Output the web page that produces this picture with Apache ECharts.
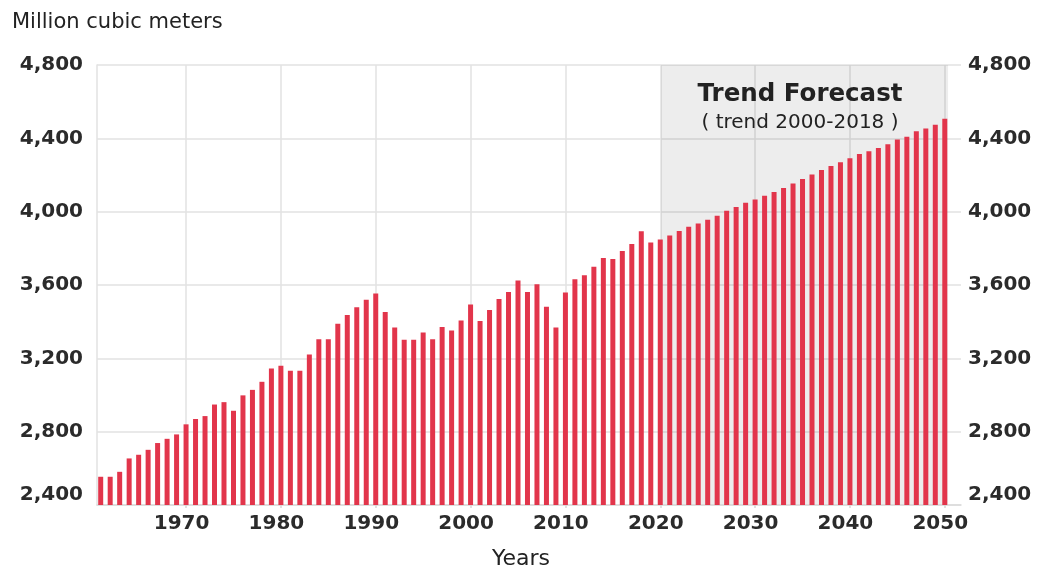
<!DOCTYPE html>
<html>
<head>
<meta charset="utf-8">
<script src="https://cdn.jsdelivr.net/npm/echarts@6/dist/echarts.min.js"></script>
<style>
  html, body { margin: 0; padding: 0; background: #fff; }
  #main { width: 1040px; height: 567px; }
</style>
</head>
<body>
<div id="main"></div>
<script>
// years 1961-2050, 2020 onwards is the trend forecast
const years = [];
for (let y = 1961; y <= 2050; y++) years.push(y);

const volumes = [
  2554, 2554, 2581, 2654, 2674, 2701, 2738, 2761, 2785, // 1961-1969
  2840, 2869, 2885, 2948, 2961, 2914, 2998, 3028, 3072, 3145, // 1970s
  3159, 3132, 3132, 3221, 3304, 3304, 3388, 3437, 3479, 3519, // 1980s
  3553, 3453, 3368, 3301, 3301, 3341, 3304, 3371, 3352, 3406, // 1990s
  3493, 3404, 3464, 3524, 3562, 3624, 3562, 3604, 3482, 3368, // 2000s
  3559, 3631, 3653, 3700, 3747, 3742, 3785, 3824, 3893, 3832, // 2010s
  3848, 3870, 3894, 3918, 3936, 3956, 3978, 4005, 4025, 4049, // 2020s
  4067, 4087, 4107, 4129, 4154, 4178, 4203, 4227, 4249, 4269, // 2030s
  4292, 4314, 4329, 4347, 4368, 4394, 4409, 4438, 4454, 4474, // 2040s
  4507                                                         // 2050
];

const decades = [1970, 1980, 1990, 2000, 2010, 2020, 2030, 2040, 2050];
const forecastStart = 2020;
const forecastEnd = 2050;

const labelFont = 'DejaVu Sans';
const textColor = '#2b2b2b';
const gridColor = '#e2e2e2';

const chart = echarts.init(document.getElementById('main'));

const yLabel = (v) => {
  const s = v.toLocaleString('en-US');
  return v === 2400 ? '{low|' + s + '}' : s;
};
const yRich = {
  low: { fontFamily: labelFont, fontWeight: 'bold', fontSize: 20, color: textColor, padding: [0, 0, 20, 0] }
};

const option = {
  animation: false,
  backgroundColor: '#fff',
  grid: { left: 97, right: 79, top: 65, bottom: 62, containLabel: false },
  graphic: [
    {
      type: 'text', x: 12, y: 23,
      style: { text: 'Million cubic meters', fontFamily: labelFont, fontSize: 21, fill: '#222', align: 'left', verticalAlign: 'middle' }
    },
    {
      type: 'text', x: 521, y: 559,
      style: { text: 'Years', fontFamily: labelFont, fontSize: 22, fill: '#222', align: 'center', verticalAlign: 'middle' }
    },
    {
      type: 'text', x: 800, y: 95, z: 10,
      style: { text: 'Trend Forecast', fontFamily: labelFont, fontWeight: 'bold', fontSize: 24.5, fill: '#222', align: 'center', verticalAlign: 'middle' }
    },
    {
      type: 'text', x: 800, y: 123, z: 10,
      style: { text: '( trend 2000-2018 )', fontFamily: labelFont, fontSize: 20, fill: '#222', align: 'center', verticalAlign: 'middle' }
    }
  ],
  xAxis: {
    type: 'value',
    min: 1960.61,
    max: 2051.71,
    z: 1,
    axisLine: { show: true, lineStyle: { color: '#dadada', width: 1.5 } },
    axisTick: { show: true, customValues: decades, length: 3, lineStyle: { color: '#d6d6d6', width: 1.5 } },
    splitLine: { show: true, lineStyle: { color: gridColor, width: 1.5 } },
    axisLabel: {
      customValues: decades,
      formatter: (v) => String(Math.round(v)),
      fontFamily: labelFont, fontWeight: 'bold', fontSize: 20, color: textColor,
      margin: 9, padding: [0, 9, 0, 0]
    }
  },
  yAxis: [
    {
      type: 'value', min: 2400, max: 4800, interval: 400, position: 'left', z: 1,
      axisLine: { show: true, lineStyle: { color: gridColor, width: 1.5 } },
      axisTick: { show: false },
      splitLine: { show: true, lineStyle: { color: gridColor, width: 1.5 } },
      axisLabel: { formatter: yLabel, rich: yRich, fontFamily: labelFont, fontWeight: 'bold', fontSize: 20, color: textColor, margin: 14 }
    },
    {
      type: 'value', min: 2400, max: 4800, interval: 400, position: 'right', z: 1,
      axisLine: { show: false },
      axisTick: { show: false },
      splitLine: { show: false },
      axisLabel: { formatter: yLabel, rich: yRich, fontFamily: labelFont, fontWeight: 'bold', fontSize: 20, color: textColor, margin: 7 }
    }
  ],
  series: [
    {
      type: 'bar',
      barWidth: 5,
      itemStyle: { color: '#e2354b' },
      data: years.map((y, i) => [y, volumes[i]]),
      markArea: {
        silent: true,
        itemStyle: { color: 'rgba(0,0,0,0.072)' },
        data: [[
          { xAxis: forecastStart + 0.08, yAxis: 4800 },
          { xAxis: forecastEnd + 0.35, yAxis: 2400 }
        ]]
      }
    }
  ]
};

chart.setOption(option);
</script>
</body>
</html>
